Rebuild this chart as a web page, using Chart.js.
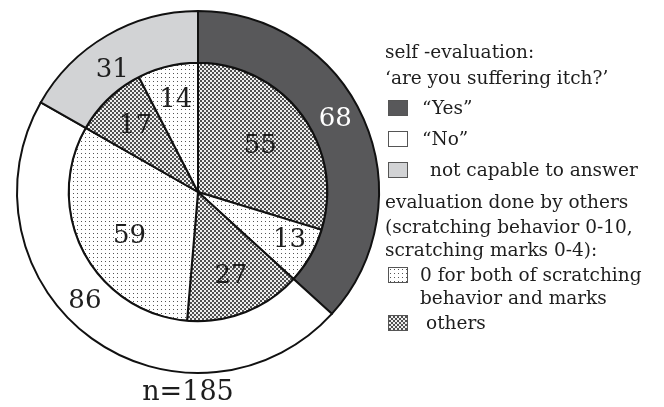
<!DOCTYPE html>
<html>
<head>
<meta charset="utf-8">
<script src="https://cdn.jsdelivr.net/npm/chart.js@4"></script>
<style>
    body { margin: 0; background: #fff; font-family: "DejaVu Serif", serif; color: #1e1e1e; }
    #wrap { position: relative; width: 664px; height: 407px; overflow: hidden; }
    #chartBox { position: absolute; left: 0; top: 0; width: 396px; height: 384px; }
    #n { position: absolute; left: 0; width: 376px; top: 375px; text-align: center; font-size: 27px; line-height: 32px; }
    .row { position: absolute; left: 385px; font-size: 18.5px; line-height: 24px; white-space: nowrap; }
    .sw { position: absolute; left: 388px; width: 18px; height: 14px; border: 1.5px solid #555; }
</style>
</head>
<body>
<div id="wrap">
    <div id="chartBox"><canvas id="myChart"></canvas></div>
    <div id="n">n=185</div>

    <div class="row" style="top:40px">self -evaluation:</div>
    <div class="row" style="top:66px">‘are you suffering itch?’</div>
    <span class="sw" style="top:100px;background:#58585a"></span>
    <div class="row" style="top:96px;left:422px">“Yes”</div>
    <span class="sw" style="top:131px;background:#fff"></span>
    <div class="row" style="top:127px;left:422px">“No”</div>
    <span class="sw" style="top:162px;background:#d2d3d5"></span>
    <div class="row" style="top:158px;left:430px">not capable to answer</div>

    <div class="row" style="top:190px">evaluation done by others</div>
    <div class="row" style="top:215px">(scratching behavior 0-10,</div>
    <div class="row" style="top:238px">scratching marks 0-4):</div>
    <span class="sw" id="swDots" style="top:267px"></span>
    <div class="row" style="top:263px;left:420px">0 for both of scratching</div>
    <div class="row" style="top:286px;left:420px">behavior and marks</div>
    <span class="sw" id="swCheck" style="top:315px"></span>
    <div class="row" style="top:311px;left:426px">others</div>
</div>
<script>
// outer ring: self-evaluation
const selfLabels = ['"Yes"', '"No"', 'not capable to answer'];
const selfValues = [68, 86, 31];

// inner pie: evaluation by others, split inside each self-evaluation group
const otherLabels = ['others', '0 for both', 'others', '0 for both', 'others', '0 for both'];
const otherValues = [55, 13, 27, 59, 17, 14];

const makeTile = (draw) => {
    const c = document.createElement('canvas');
    c.width = 4;
    c.height = 4;
    const g = c.getContext('2d');
    g.fillStyle = '#fff';
    g.fillRect(0, 0, 4, 4);
    draw(g);
    return c;
};

const dotTile = makeTile((g) => {
    g.fillStyle = '#555';
    g.fillRect(1, 1, 1, 1);
});
const checkTile = makeTile((g) => {
    g.fillStyle = '#eee';
    g.fillRect(0, 0, 4, 4);
    g.fillStyle = '#505050';
    g.fillRect(0, 0, 2, 2);
    g.fillRect(2, 2, 2, 2);
});

const ctx = document.getElementById('myChart').getContext('2d');
const dots = ctx.createPattern(dotTile, 'repeat');
const checks = ctx.createPattern(checkTile, 'repeat');

document.getElementById('swDots').style.background = 'url(' + dotTile.toDataURL() + ')';
document.getElementById('swCheck').style.background = 'url(' + checkTile.toDataURL() + ')';

// numbers placed along the middle angle of every arc
// (radial spot as a fraction of the ring, plus a small angle nudge in degrees)
const labelSpots = [
    [[0.5, -4], [0.54, 10], [0.38, -5]],
    [[0.6, 0], [0.8, -2], [0.7, 0], [0.63, -5], [0.7, 0], [0.73, 0]]
];

const arcLabels = {
    id: 'arcLabels',
    afterDatasetsDraw(chart) {
        const c = chart.ctx;
        c.save();
        c.font = '26px "DejaVu Serif"';
        c.textAlign = 'center';
        c.textBaseline = 'middle';
        chart.data.datasets.forEach((ds, i) => {
            chart.getDatasetMeta(i).data.forEach((arc, j) => {
                const p = arc.getProps(['x', 'y', 'startAngle', 'endAngle', 'innerRadius', 'outerRadius'], true);
                const spot = labelSpots[i][j];
                const a = (p.startAngle + p.endAngle) / 2 + spot[1] * Math.PI / 180;
                const r = p.innerRadius + (p.outerRadius - p.innerRadius) * spot[0];
                c.fillStyle = ds.labelColor[j];
                c.fillText(ds.data[j], p.x + r * Math.cos(a), p.y + r * Math.sin(a));
            });
        });
        c.restore();
    }
};

new Chart(ctx, {
    type: 'doughnut',
    data: {
        datasets: [{
            label: 'self-evaluation',
            labels: selfLabels,
            data: selfValues,
            weight: 52,
            backgroundColor: ['#58585a', '#ffffff', '#d2d3d5'],
            labelColor: ['#ffffff', '#1e1e1e', '#1e1e1e']
        }, {
            label: 'evaluation by others',
            labels: otherLabels,
            data: otherValues,
            weight: 130,
            backgroundColor: [checks, dots, checks, dots, checks, dots],
            labelColor: ['#1e1e1e', '#1e1e1e', '#1e1e1e', '#1e1e1e', '#1e1e1e', '#1e1e1e']
        }]
    },
    options: {
        responsive: true,
        maintainAspectRatio: false,
        animation: false,
        cutout: 0,
        layout: { padding: { top: 10, bottom: 10, left: 16, right: 16 } },
        elements: { arc: { borderColor: '#111', borderWidth: 2, hoverOffset: 0, borderJoinStyle: 'miter' } },
        plugins: {
            legend: { display: false },
            tooltip: { enabled: false }
        }
    },
    plugins: [arcLabels]
});
</script>
</body>
</html>
